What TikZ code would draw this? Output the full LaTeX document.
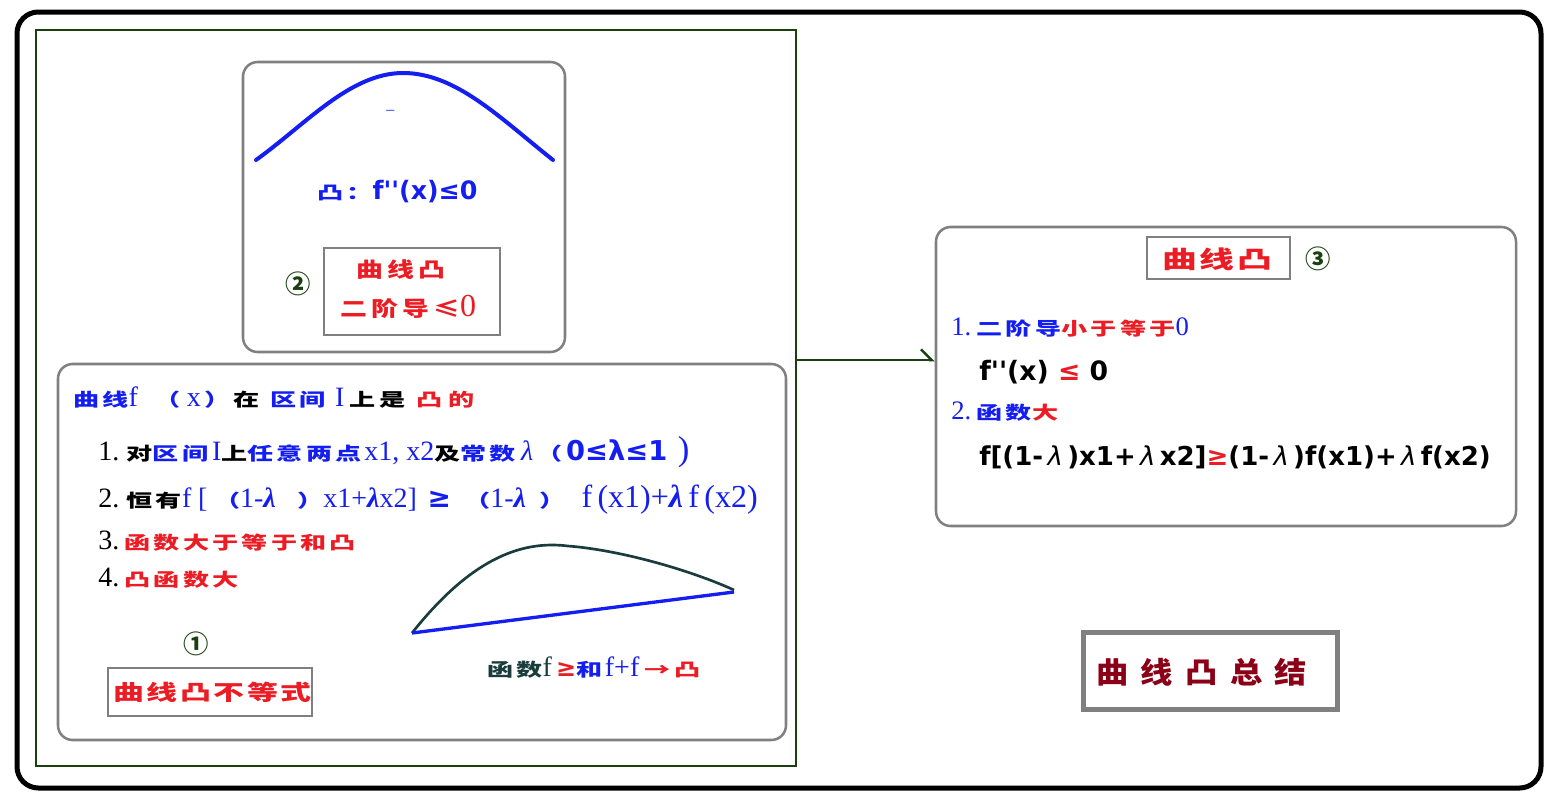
\documentclass[tikz,border=0pt]{standalone}
\usepackage{fontspec}
\setmainfont{Liberation Serif}
\setsansfont{DejaVu Sans}
\newfontfamily\cjk{Noto Sans CJK SC}[FakeStretch=1.45, LetterSpace=18]
\newfontfamily\cjkbox{Noto Sans CJK SC}[FakeStretch=1.3, LetterSpace=20]
\newfontfamily\cjktag{Noto Sans CJK SC}[FakeStretch=1.45, LetterSpace=12]
\newfontfamily\cjktitle{Noto Sans CJK SC}[FakeStretch=1.1, LetterSpace=42]
\newfontfamily\cjkmark{Noto Sans CJK SC}
\usetikzlibrary{arrows.meta}

\definecolor{inkblue}{RGB}{20,30,240}
\definecolor{inkred}{RGB}{236,28,36}
\definecolor{inkgreen}{RGB}{26,64,16}
\definecolor{inkslate}{RGB}{26,60,60}
\definecolor{inkmaroon}{RGB}{139,0,22}
\definecolor{boxgray}{RGB}{128,128,128}

\newcommand{\fsz}[1]{\fontsize{#1}{1.2\dimexpr#1pt\relax}\selectfont}
\newcommand{\zh}[1]{{\cjk\bfseries\fsz{13.5}#1}}
\newcommand{\sfb}[1]{{\sffamily\bfseries #1}}
\newcommand{\lam}{\textit{λ}}
\newcommand{\blam}{\textbf{\textit{λ}}}
\newcommand{\pr}{\textquotesingle}
\newcommand{\gap}[1][4pt]{\hspace{#1}}

\tikzset{
  panel/.style={draw=boxgray, line width=1.9pt, rounded corners=11pt, inner sep=0pt},
  tagbox/.style={draw=boxgray, line width=2.2pt, inner sep=0pt},
  txt/.style={anchor=west, inner sep=0.75pt},
  marker/.style={inner sep=0pt, text=inkgreen, font=\fsz{19}\cjkmark\bfseries},
  linkarrow/.style={draw=inkgreen, line width=1.9pt, -{Straight Barb[left,length=8pt,width=16pt]}},
}

\begin{document}
\begin{tikzpicture}[x=0.75pt,y=0.75pt,yscale=-1,xscale=1]
\useasboundingbox (0,0) rectangle (1560,803);

% outer frames
\node [draw=black, line width=3.75pt, rounded corners=16pt, inner sep=0pt, minimum width=1143pt, minimum height=582pt] (outer) at (779,400) {};
\node [draw=inkgreen, line width=1.9pt, inner sep=0pt, minimum width=570pt, minimum height=552pt] (leftpanel) at (416,398) {};

% top box: shape of the curve
\node [panel, minimum width=241.5pt, minimum height=217.5pt] (shapebox) at (404,207) {};
\draw [inkblue, line width=3pt, line cap=round] (256,160) .. controls (305,125) and (350,73) .. (403,73) .. controls (456,73) and (500,118) .. (553,160);
\node [txt, text=inkblue, font=\fsz{12}] (dash) at (385,112) {–};
\node [txt, text=inkblue] (ruletext) at (316,192) {\zh{凸：}\fsz{19}\sfb{f\pr\pr(x)≤0}};
\node [tagbox, minimum width=132pt, minimum height=65.25pt] (tagtwo) at (412,291.5) {};
\node [txt, text=inkred, font=\fsz{15.5}\cjkbox\bfseries] (tagtwoa) at (355,270) {曲线凸};
\node [txt, text=inkred, font=\fsz{15.5}\cjkbox\bfseries] (tagtwob) at (339,307) {二阶导≤{\rmfamily\mdseries\fsz{24}0}};
\node [marker] (numtwo) at (298,284) {②};

% bottom box: inequality
\node [panel, minimum width=546pt, minimum height=282pt] (ineqbox) at (422,552) {};
\node [txt, font=\fsz{21}] (headline) at (72,398) {\textcolor{inkblue}{\zh{曲线}f\gap[12pt]\zh{（}\gap[5pt]x\gap[3pt]\zh{）}}\gap[2pt]\zh{在}\gap[8pt]\textcolor{inkblue}{\zh{区间}\gap[7pt]I}\gap[4pt]\zh{上}\gap[3pt]\zh{是}\gap[8pt]\textcolor{inkred}{\zh{凸}\gap[4pt]\zh{的}}};
\node [txt, font=\fsz{21}] (itemone) at (97,452) {1.\gap[5.5pt]\zh{对}\textcolor{inkblue}{\zh{区间}\gap[3pt]I}\zh{上}\textcolor{inkblue}{\zh{任意两点}\gap[2pt]x1, x2}\zh{及}\textcolor{inkblue}{\zh{常数}\gap\lam\gap[2pt]\zh{（}\gap[3pt]\fsz{20.5}\sfb{0≤λ≤1}\gap[8pt]\fsz{26})}};
\node [txt, font=\fsz{22}] (itemtwo) at (97,500) {\fsz{21}2.\gap[5.5pt]\zh{恒有}\textcolor{inkblue}{f\gap[5pt][\gap[5pt]\zh{（}1-\blam\gap[16pt]\zh{）}x1+\blam x2]\gap[8pt]\sfb{≥}\gap[10pt]\zh{（}1-\blam\gap[10pt]\zh{）}\gap[12pt]{\fsz{24}f\,(x1)+\blam\,f\,(x2)}}};
\node [txt, font=\fsz{21}] (itemthree) at (97,541) {3.\gap\textcolor{inkred}{\zh{函数大于等于和凸}}};
\node [txt, font=\fsz{21}] (itemfour) at (97,578) {4.\gap\textcolor{inkred}{\zh{凸函数大}}};
\draw [inkslate, line width=2pt] (412,633) .. controls (470,560) and (520,540) .. (568,546) .. controls (620,550) and (690,570) .. (734,590);
\draw [inkblue, line width=2.5pt] (412,633) -- (734,592);
\node [txt, font=\fsz{21}] (chordtext) at (486,668) {\textcolor{inkslate}{\zh{函数}f}\gap[3pt]\textcolor{inkred}{\fsz{18}\sfb{≥}}\textcolor{inkblue}{\zh{和}\gap[2pt]f+f}\gap[4pt]\textcolor{inkred}{\zh{→凸}}};
\node [marker] (numone) at (196,644) {①};
\node [tagbox, minimum width=153pt, minimum height=36pt] (tagone) at (210,692) {};
\node [txt, text=inkred, font=\fsz{16}\cjktag\bfseries] (tagonetext) at (112,692) {曲线凸不等式};

% link to summary
\coordinate (arrowrow) at (0,360);
\node [panel, minimum width=435pt, minimum height=224.25pt] (summarybox) at (1226,376.5) {};
\draw [linkarrow] (leftpanel.east |- arrowrow) -- (summarybox.west |- arrowrow);

% summary box
\node [tagbox, minimum width=107.25pt, minimum height=31.5pt] (tagthree) at (1218.5,258) {};
\node [txt, text=inkred, font=\fsz{18}\cjktag\bfseries] (tagthreetext) at (1161,259) {曲线凸};
\node [marker] (numthree) at (1318,259) {③};
\node [txt, font=\fsz{20}] (sumone) at (950,328) {\textcolor{inkblue}{1.\gap\zh{二阶导}}\textcolor{inkred}{\zh{小于等于}}\textcolor{inkblue}{0}};
\node [txt, font=\fsz{20}] (sumonef) at (978,372) {\sfb{f\pr\pr(x) \textcolor{inkred}{≤} 0}};
\node [txt, font=\fsz{20}] (sumtwo) at (950,412) {\textcolor{inkblue}{2.\gap\zh{函数}}\textcolor{inkred}{\zh{大}}};
\node [txt, font=\fsz{19.5}] (sumtwof) at (978,457) {\sfb{f[(1-\,{\mdseries\lam}\,)x1+\,{\mdseries\lam}\,x2]\textcolor{inkred}{≥}(1-\,{\mdseries\lam}\,)f(x1)+\,{\mdseries\lam}\,f(x2)}};

% title
\node [draw=boxgray, line width=3.75pt, inner sep=0pt, minimum width=190.5pt, minimum height=57.75pt] (titlebox) at (1210,670.5) {};
\node [txt, text=inkmaroon, font=\fsz{22}\cjktitle\bfseries] (titletext) at (1095,672) {曲线凸总结};

\end{tikzpicture}
\end{document}
